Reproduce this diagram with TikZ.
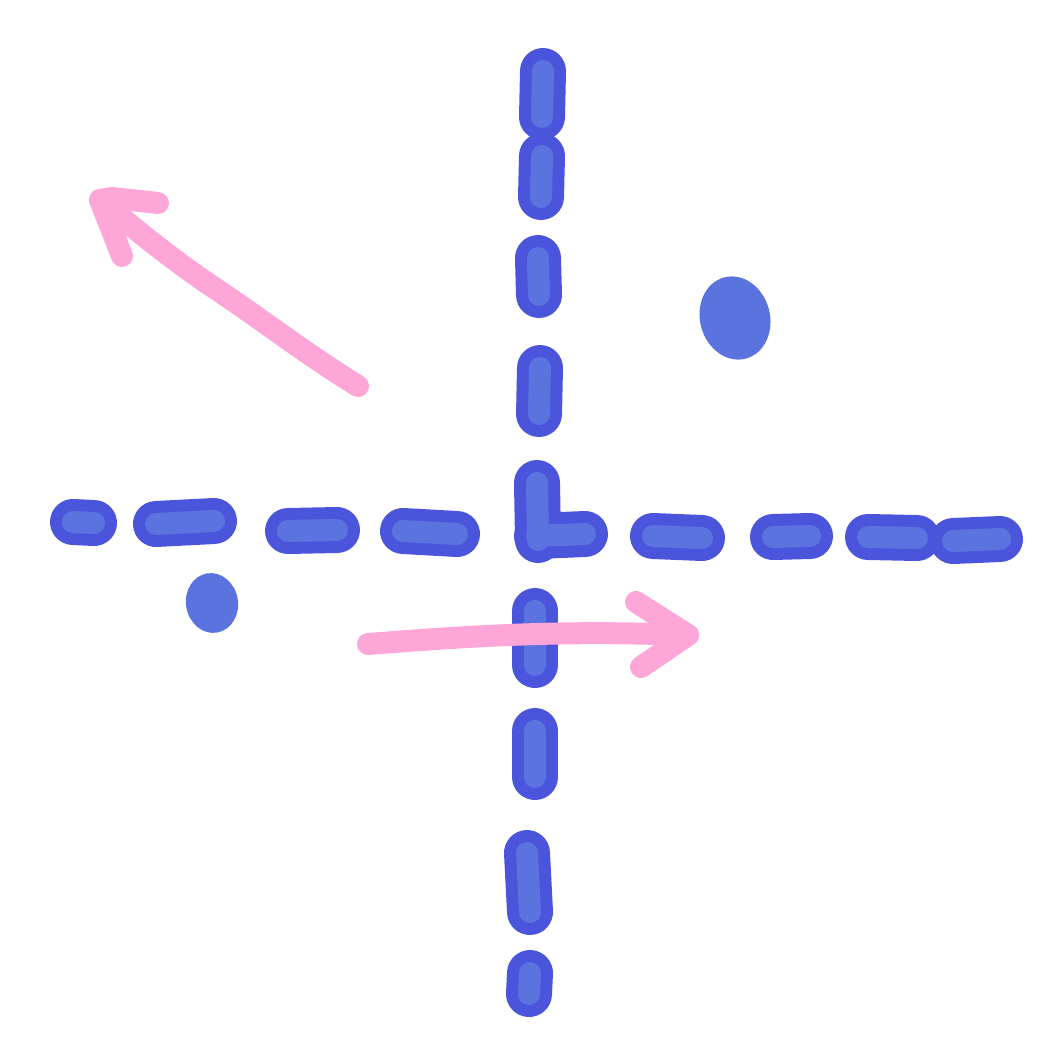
\documentclass[tikz,border=0pt]{standalone}
\usetikzlibrary{calc}
\definecolor{axisedge}{HTML}{4B55DC}
\definecolor{axisfill}{HTML}{5B73DE}
\definecolor{arrowpink}{HTML}{FFA6D8}
\begin{document}
\begin{tikzpicture}[
          x=1pt, y=-1pt,
          pillout/.style={line width=46pt, line cap=round, line join=round, axisedge},
          pillin/.style={line width=22pt, line cap=round, line join=round, axisfill},
          dot/.style={fill=axisfill, draw=none},
          pinkarrow/.style={line width=22pt, line cap=round, line join=round, arrowpink},
        ]
          \useasboundingbox (0,0) rectangle (1055,1063);

          % Dashes of both axes (vertical first, then horizontal)
          \def\axisdashes{543/71/542/117, 542/156/541/197, 538/258/539/295,
                          540/368/539/414, 537/483/538/540, 535/611/535/665,
                          535/731/535/777, 527/853/530/912, 530/973/529/994,
                          73/522/94/523, 156/524/214/521, 288/531/337/530,
                          403/531/457/534, 537/536/585/534, 653/536/702/538,
                          773/537/810/536, 868/537/917/538, 953/541/1000/539}

          % Outlines, then inner fill on top
          \foreach \xa/\ya/\xb/\yb in \axisdashes
            \draw[pillout] (\xa,\ya) -- (\xb,\yb);
          \foreach \xa/\ya/\xb/\yb in \axisdashes
            \draw[pillin] (\xa,\ya) -- (\xb,\yb);

          % Dots
          \fill[dot, rotate around={15:(735,318)}] (735,318) ellipse (35 and 42);
          \fill[dot, rotate around={10:(212,603)}] (212,603) ellipse (26 and 30);

          % Upper left arrow
          \draw[pinkarrow] (358,386) .. controls (300,350) and (260,318) .. (210,285)
            .. controls (170,258) and (130,225) .. (100,200);
          \draw[pinkarrow] (158,203) -- (112,198) -- (100,200) -- (122,256);

          % Lower right arrow
          \draw[pinkarrow] (368,644) .. controls (470,636) and (560,630) .. (688,635);
          \draw[pinkarrow] (636,602) -- (688,635) -- (641,667);
        \end{tikzpicture}
\end{document}
